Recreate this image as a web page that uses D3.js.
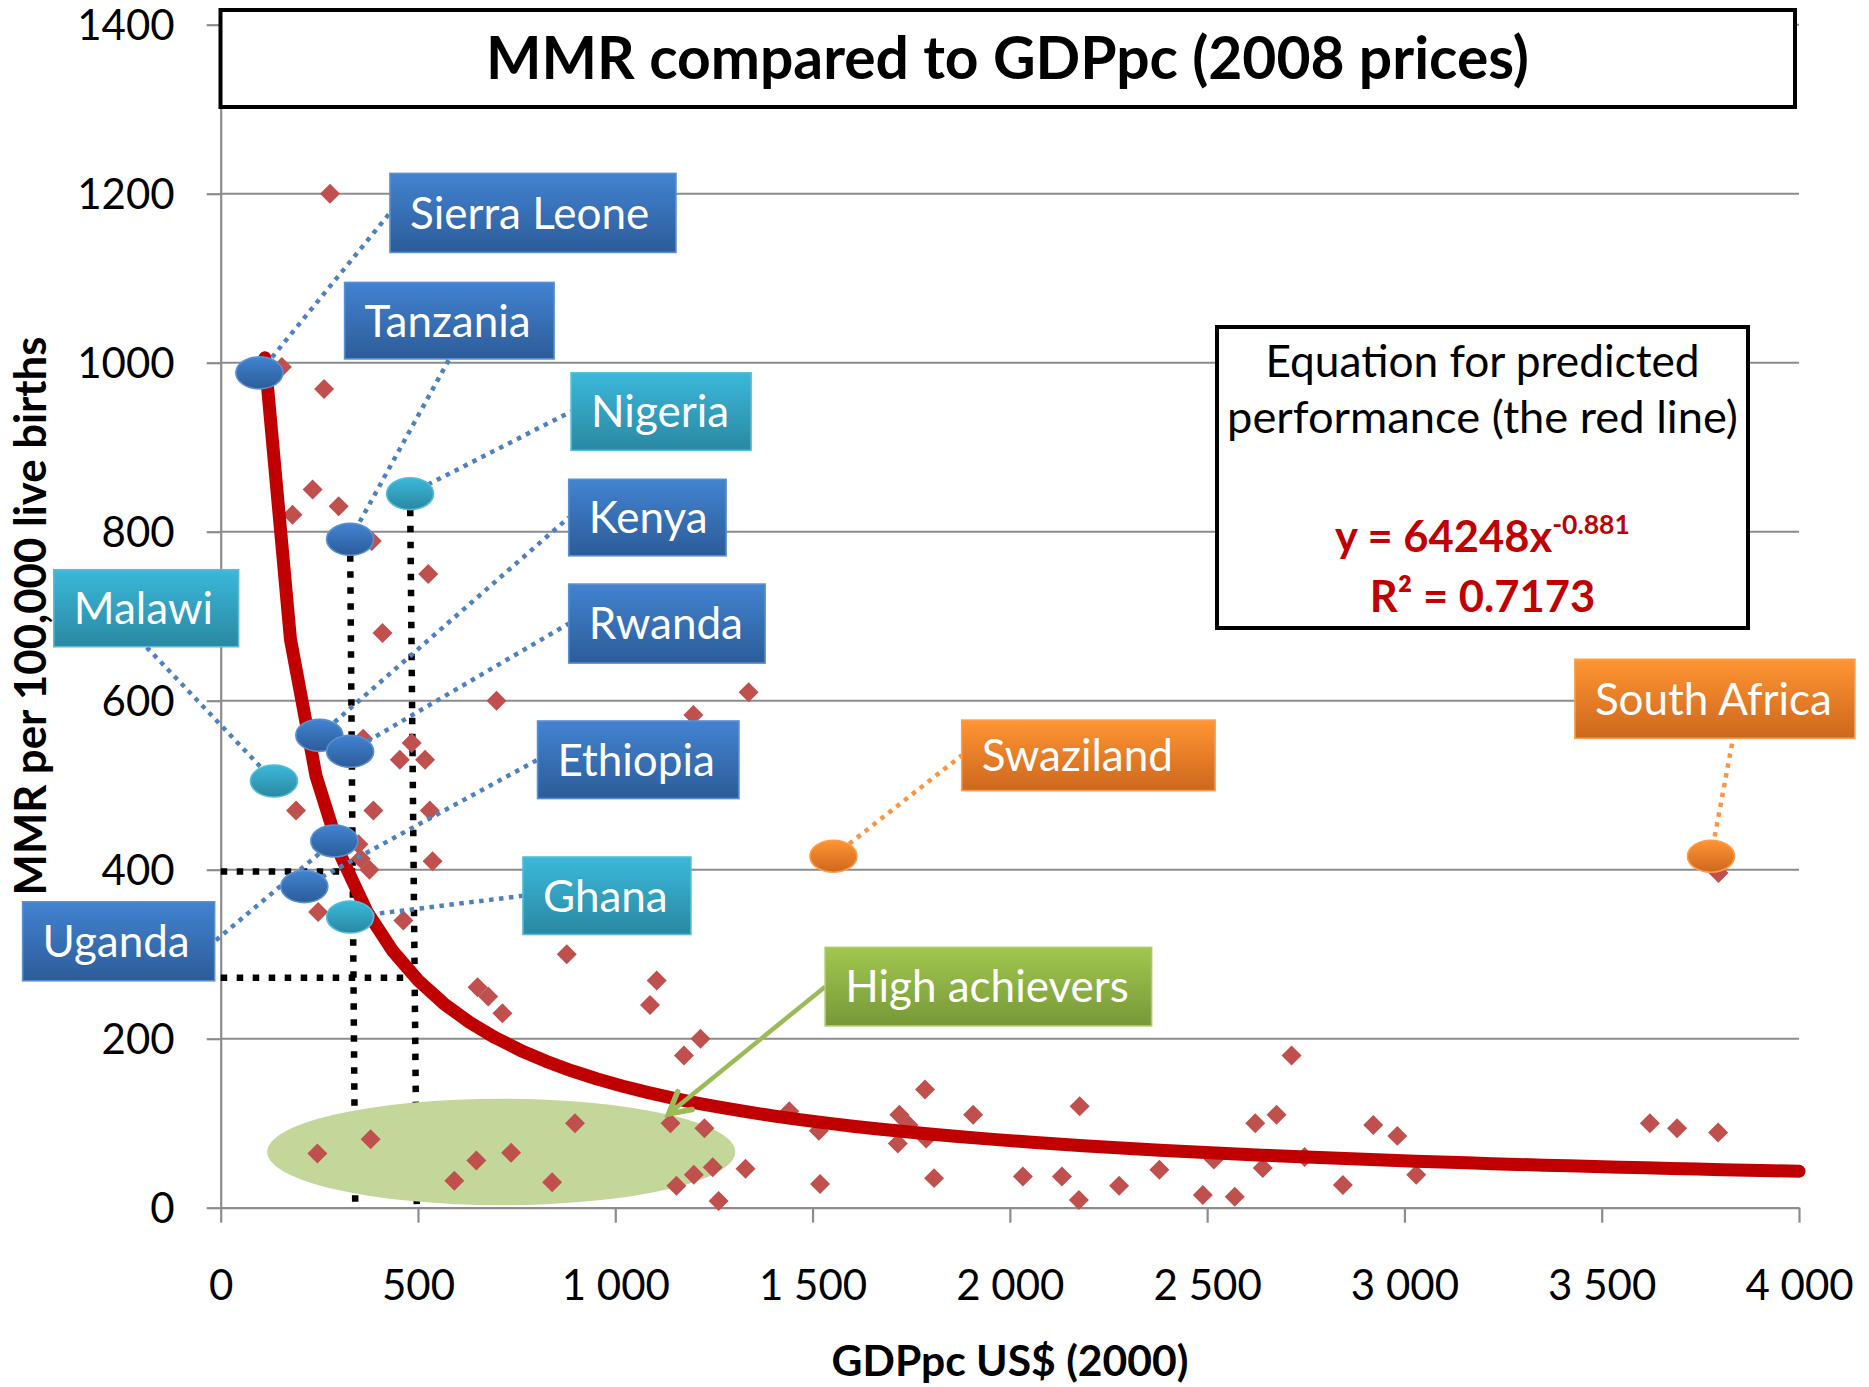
<!DOCTYPE html>
<html>
<head>
<meta charset="utf-8">
<script src="https://cdn.jsdelivr.net/npm/d3@7"></script>
<style>
  html, body { margin: 0; padding: 0; background: #ffffff; }
  svg { display: block; font-family: Lato, "Open Sans", "DejaVu Sans", sans-serif; }
</style>
</head>
<body>
<svg id="chart" width="1869" height="1387"></svg>
<script>
// ---- Data -----------------------------------------------------------------
// Country observations: GDP per capita (US$ 2000) and MMR per 100,000 live births
const gdp = [277, 155, 262, 233, 299, 182, 383, 526, 410, 699, 1198, 1338,
             361, 484, 454, 518, 191, 387, 530, 349, 355, 377, 537, 247, 463,
             877, 651, 678, 714, 1105, 1088, 1216, 1174,
             245, 380, 592, 648, 736, 840, 898, 1140, 1226, 1247, 1199, 1155,
             1330, 1262, 1441, 1516, 1519, 1720, 1743, 1716, 1785, 1788, 1808,
             1907, 2033, 2132, 2175, 2177, 2277, 2379, 2489, 2517, 2570, 2622,
             2641, 2676, 2714, 2747, 2844, 2921, 2982, 3030, 3622, 3691, 3795, 3796];
const mmr = [1200, 995, 969, 850, 830, 820, 789, 750, 680, 600, 583, 610,
             555, 550, 530, 530, 470, 470, 470, 430, 413, 400, 410, 350, 340,
             300, 261, 250, 230, 269, 240, 200, 180,
             64, 81, 32, 56, 65, 30, 100, 100, 94, 48, 39, 26,
             46, 8, 114, 91, 28, 110, 98, 76, 140, 82, 35,
             110, 37, 37, 9, 120, 26, 45, 15, 57, 13, 100,
             47, 110, 180, 60, 27, 98, 85, 39, 100, 94, 89, 396];

// Highlighted countries
const highlightNames = ["Sierra Leone", "Tanzania", "Nigeria", "Kenya", "Rwanda", "Uganda",
                        "Ethiopia", "Malawi", "Ghana", "Swaziland", "South Africa"];
const highlightGdp   = [98, 328, 480, 250, 328, 288, 212, 135, 328, 1553, 3777];
const highlightMmr   = [988, 791, 845, 559, 540, 434, 380, 505, 344, 416, 416];
const highlightGroup = ["blue", "blue", "cyan", "blue", "blue", "blue",
                        "blue", "cyan", "cyan", "orange", "orange"];

// Power trendline fitted to the observations
const trendCoef = 64248;
const trendExp = -0.881;
const trendR2 = 0.7173;
const trendFrom = 112, trendTo = 4000;

// Predicted MMR read-offs for Tanzania and Nigeria
const guideGdpTop    = [328, 480];
const guideMmrTop    = [791, 845];
const guideGdpBottom = [341, 497];
const guideLevel     = [398, 272];

// Axis ticks
const xTickValues = [0, 500, 1000, 1500, 2000, 2500, 3000, 3500, 4000];
const yTickValues = [0, 200, 400, 600, 800, 1000, 1200, 1400];

// ---- Layout ---------------------------------------------------------------
const svg = d3.select("#chart");
const x = d3.scaleLinear().domain([0, 4000]).range([220.7, 1799]);
const y = d3.scaleLinear().domain([0, 1400]).range([1207.7, 24.7]);
const FONT = 'Lato, "Open Sans", "DejaVu Sans", sans-serif';

// Callout boxes: top-left corner in chart units, box size in px,
// and where the leader leaves the box (fraction of width / height)
const calloutLayout = {
  "Sierra Leone": { gx: 429,  my: 1224, w: 286,   h: 79,   anchor: [0, 0.5] },
  "Tanzania":     { gx: 314,  my: 1095, w: 209.5, h: 76.5, anchor: [0.5, 1] },
  "Nigeria":      { gx: 888,  my: 988,  w: 180,   h: 77.5, anchor: [0, 0.5] },
  "Kenya":        { gx: 882,  my: 862,  w: 157.4, h: 76.5, anchor: [0, 0.5] },
  "Rwanda":       { gx: 882,  my: 738,  w: 196.4, h: 79,   anchor: [0, 0.5] },
  "Ethiopia":     { gx: 803,  my: 576,  w: 201.4, h: 77.6, anchor: [0, 0.5] },
  "Ghana":        { gx: 766,  my: 415,  w: 168,   h: 77.5, anchor: [0, 0.5] },
  "Malawi":       { gx: -423, my: 755,  w: 184.8, h: 77,   anchor: [0.5, 1] },
  "Uganda":       { gx: -502, my: 362,  w: 192,   h: 79,   anchor: [1, 0.5] },
  "Swaziland":    { gx: 1878, my: 577,  w: 253.4, h: 70.5, anchor: [0, 0.5] },
  "South Africa": { gx: 3432, my: 649,  w: 280,   h: 79,   anchor: [0.565, 1] }
};
const achieverLayout = { gx: 1532, my: 308, w: 326.4, h: 78.4, tipGdp: 1135, tipMmr: 111 };
const achieverZone = { gdp: 711, mmr: 66, rGdp: 593, rMmr: 63 };

const palette = {
  blue:   { top: "#4283d1", bottom: "#2c5c99", edge: "#5b8fd0" },
  cyan:   { top: "#3bb8da", bottom: "#2a88a2", edge: "#56bdd8" },
  orange: { top: "#ff9532", bottom: "#cd671d", edge: "#fa9d4f" },
  green:  { top: "#a2c74e", bottom: "#769839", edge: "#a9c96a" }
};
const leaderColor = { blue: "#4f81bd", cyan: "#4f81bd", orange: "#f79646" };

const defs = svg.append("defs");
Object.entries(palette).forEach(([k, c]) => {
  const g = defs.append("linearGradient").attr("id", "grad-" + k)
    .attr("x1", 0).attr("y1", 0).attr("x2", 0).attr("y2", 1);
  g.append("stop").attr("offset", "0%").attr("stop-color", c.top);
  g.append("stop").attr("offset", "100%").attr("stop-color", c.bottom);
});

// Fit a text element's font size so it spans the requested width
function fitWidth(sel, width) {
  const fs = parseFloat(sel.attr("font-size"));
  const w = sel.node().getComputedTextLength();
  sel.attr("font-size", (fs * width / w).toFixed(2));
}

// ---- Gridlines ------------------------------------------------------------
svg.append("g").attr("class", "grid")
  .selectAll("line").data(yTickValues.filter(d => d > 0)).join("line")
  .attr("x1", x(0)).attr("x2", x(4000))
  .attr("y1", d => y(d)).attr("y2", d => y(d))
  .attr("stroke", "#8c8c8c").attr("stroke-width", 2);

// ---- Axes -----------------------------------------------------------------
const spaced = d3.formatLocale({ decimal: ".", thousands: " ", grouping: [3], currency: ["", ""] }).format(",");
const xAxisG = svg.append("g").attr("transform", `translate(0,${y(0)})`)
  .call(d3.axisBottom(x).tickValues(xTickValues).tickFormat(spaced)
        .tickSize(15).tickSizeOuter(0).tickPadding(47));
const yAxisG = svg.append("g").attr("transform", `translate(${x(0)},0)`)
  .call(d3.axisLeft(y).tickValues(yTickValues).tickFormat(d3.format("d"))
        .tickSize(14).tickSizeOuter(0).tickPadding(32));
[xAxisG, yAxisG].forEach(g => {
  g.attr("font-family", FONT).attr("font-size", 42);
  g.select(".domain").attr("stroke", "#8c8c8c").attr("stroke-width", 2.2);
  g.selectAll(".tick line").attr("stroke", "#8c8c8c").attr("stroke-width", 2.2);
  g.selectAll(".tick text").attr("fill", "#000");
});
yAxisG.selectAll(".tick text").attr("dy", "0.36em");

// Axis titles
const xTitle = svg.append("text").attr("x", 1010).attr("y", 1376)
  .attr("text-anchor", "middle").attr("font-family", FONT).attr("font-weight", 700)
  .attr("font-size", 40).attr("fill", "#000").text("GDPpc US$ (2000)");
fitWidth(xTitle, 357);
const yTitle = svg.append("text").attr("transform", "translate(46,616) rotate(-90)")
  .attr("text-anchor", "middle").attr("font-family", FONT).attr("font-weight", 700)
  .attr("font-size", 38).attr("fill", "#000").text("MMR per 100,000 live births");
fitWidth(yTitle, 559);

// ---- Read-off guides (dotted black) --------------------------------------
const guides = svg.append("g").attr("stroke", "#000").attr("stroke-width", 6.5)
  .attr("stroke-dasharray", "6.5 9.5").attr("fill", "none");
guideLevel.forEach((lvl, i) => {
  guides.append("line")
    .attr("x1", x(guideGdpTop[i])).attr("y1", y(guideMmrTop[i]))
    .attr("x2", x(guideGdpBottom[i])).attr("y2", y(0));
  guides.append("line")
    .attr("x1", x(0)).attr("y1", y(lvl))
    .attr("x2", x(d3.max([guideGdpTop[i], guideGdpBottom[i]]) + (i === 0 ? 6 : 0))).attr("y2", y(lvl));
});

// ---- High achievers zone ---------------------------------------------------
svg.append("ellipse")
  .attr("cx", x(achieverZone.gdp)).attr("cy", y(achieverZone.mmr))
  .attr("rx", x(achieverZone.gdp + achieverZone.rGdp) - x(achieverZone.gdp))
  .attr("ry", y(0) - y(achieverZone.rMmr))
  .attr("fill", "#c4d79b");

// ---- Observations ----------------------------------------------------------
const diamond = d3.symbol(d3.symbolSquare, 200);
svg.append("g").selectAll("path").data(d3.range(gdp.length)).join("path")
  .attr("d", diamond)
  .attr("transform", i => `translate(${x(gdp[i])},${y(mmr[i])}) rotate(45)`)
  .attr("fill", "#c0504d");

// ---- Trendline -------------------------------------------------------------
const trendX = d3.range(61).map(i => trendFrom + i * (trendTo - trendFrom) / 60);
svg.append("path")
  .attr("d", d3.line().x(d => x(d)).y(d => y(trendCoef * Math.pow(d, trendExp)))(trendX))
  .attr("fill", "none").attr("stroke", "#c00000").attr("stroke-width", 13)
  .attr("stroke-linecap", "round").attr("stroke-linejoin", "round");

// ---- Callouts --------------------------------------------------------------
const boxOf = name => {
  const L = calloutLayout[name];
  return { x: x(L.gx), y: y(L.my), w: L.w, h: L.h, anchor: L.anchor };
};

// Leaders (under the markers)
const leaders = svg.append("g").attr("fill", "none");
highlightNames.forEach((name, i) => {
  const b = boxOf(name);
  leaders.append("line")
    .attr("x1", x(highlightGdp[i])).attr("y1", y(highlightMmr[i]))
    .attr("x2", b.x + b.w * b.anchor[0]).attr("y2", b.y + b.h * b.anchor[1])
    .attr("stroke", leaderColor[highlightGroup[i]])
    .attr("stroke-width", 4.5).attr("stroke-dasharray", "4.5 5.5");
});

// Country markers
svg.append("g").selectAll("ellipse").data(d3.range(highlightNames.length)).join("ellipse")
  .attr("cx", i => x(highlightGdp[i])).attr("cy", i => y(highlightMmr[i]))
  .attr("rx", 23.5).attr("ry", 16)
  .attr("fill", i => `url(#grad-${highlightGroup[i]})`)
  .attr("stroke", i => palette[highlightGroup[i]].edge).attr("stroke-width", 1.6);

// Label boxes
function labelBox(b, group, text) {
  const g = svg.append("g");
  g.append("rect").attr("x", b.x).attr("y", b.y).attr("width", b.w).attr("height", b.h)
    .attr("fill", `url(#grad-${group})`)
    .attr("stroke", palette[group].edge).attr("stroke-width", 1.6);
  g.append("text").attr("x", b.x + 20).attr("y", b.y + b.h / 2).attr("dy", "0.36em")
    .attr("font-family", FONT).attr("font-size", 44).attr("fill", "#fff").text(text);
}
highlightNames.forEach((name, i) => labelBox(boxOf(name), highlightGroup[i], name));

// High achievers arrow + label
const ab = { x: x(achieverLayout.gx), y: y(achieverLayout.my), w: achieverLayout.w, h: achieverLayout.h };
const sx = ab.x, sy = ab.y + ab.h / 2;
const tx = x(achieverLayout.tipGdp), ty = y(achieverLayout.tipMmr);
const ang = Math.atan2(sy - ty, sx - tx);
const arm = 24, spread = 0.5;
svg.append("line").attr("x1", sx).attr("y1", sy).attr("x2", tx).attr("y2", ty)
  .attr("stroke", "#9bbb59").attr("stroke-width", 4.5);
svg.append("path")
  .attr("d", `M${tx + arm * Math.cos(ang - spread)},${ty + arm * Math.sin(ang - spread)}` +
             `L${tx},${ty}L${tx + arm * Math.cos(ang + spread)},${ty + arm * Math.sin(ang + spread)}`)
  .attr("fill", "none").attr("stroke", "#9bbb59").attr("stroke-width", 5.5)
  .attr("stroke-linejoin", "miter").attr("stroke-linecap", "round");
labelBox(ab, "green", "High achievers");

// ---- Equation box ----------------------------------------------------------
const eq = svg.append("g");
eq.append("rect").attr("x", 1217).attr("y", 327).attr("width", 531).attr("height", 301)
  .attr("fill", "#fff").attr("stroke", "#000").attr("stroke-width", 4);
const eqCx = 1482.5;
const eqHead = eq.append("text").attr("x", eqCx).attr("y", 376.7).attr("text-anchor", "middle")
  .attr("font-family", FONT).attr("font-size", 41).attr("fill", "#000")
  .text("Equation for predicted");
fitWidth(eqHead, 434);
const perf = eq.append("text").attr("x", eqCx).attr("y", 433).attr("text-anchor", "middle")
  .attr("font-family", FONT).attr("font-size", 41).attr("fill", "#000")
  .text("performance (the red line)");
fitWidth(perf, 511);
const eqLine = eq.append("text").attr("x", eqCx).attr("y", 551.7).attr("text-anchor", "middle")
  .attr("font-family", FONT).attr("font-weight", 700).attr("font-size", 43.5).attr("fill", "#c00000");
eqLine.append("tspan").text(`y = ${trendCoef}x`);
eqLine.append("tspan").attr("font-size", 26.5).attr("dy", -18).text(`${trendExp}`);
eq.append("text").attr("x", eqCx).attr("y", 611.7).attr("text-anchor", "middle")
  .attr("font-family", FONT).attr("font-weight", 700).attr("font-size", 43.5).attr("fill", "#c00000")
  .text(`R² = ${trendR2}`);

// ---- Title -----------------------------------------------------------------
svg.append("rect").attr("x", 220.5).attr("y", 10).attr("width", 1574.5).attr("height", 97)
  .attr("fill", "#fff").attr("stroke", "#000").attr("stroke-width", 4);
const title = svg.append("text").attr("x", 1007.5).attr("y", 79).attr("text-anchor", "middle")
  .attr("font-family", FONT).attr("font-weight", 700).attr("font-size", 54).attr("fill", "#000")
  .text("MMR compared to GDPpc (2008 prices)");
fitWidth(title, 1043);
</script>
</body>
</html>
